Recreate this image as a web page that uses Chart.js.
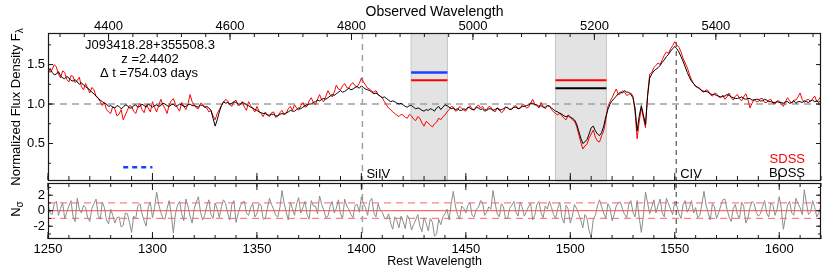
<!DOCTYPE html>
<html><head><meta charset="utf-8">
<script src="https://cdn.jsdelivr.net/npm/chart.js@4/dist/chart.umd.min.js"></script>
<style>html,body{margin:0;padding:0;background:#fff;}canvas{display:block;}</style>
</head><body>
<canvas id="c" width="830" height="278"></canvas>
<script>
// ---------------- data ----------------
const restWave = [
1250,1251,1252,1253,1254,1255,1256,1257,1258,1259,1260,1261,1262,1263,1264,1265,1266,1267,1268,1269,
1270,1271,1272,1273,1274,1275,1276,1277,1278,1279,1280,1281,1282,1283,1284,1285,1286,1287,1288,1289,
1290,1291,1292,1293,1294,1295,1296,1297,1298,1299,1300,1301,1302,1303,1304,1305,1306,1307,1308,1309,
1310,1311,1312,1313,1314,1315,1316,1317,1318,1319,1320,1321,1322,1323,1324,1325,1326,1327,1328,1329,
1330,1331,1332,1333,1334,1335,1336,1337,1338,1339,1340,1341,1342,1343,1344,1345,1346,1347,1348,1349,
1350,1351,1352,1353,1354,1355,1356,1357,1358,1359,1360,1361,1362,1363,1364,1365,1366,1367,1368,1369,
1370,1371,1372,1373,1374,1375,1376,1377,1378,1379,1380,1381,1382,1383,1384,1385,1386,1387,1388,1389,
1390,1391,1392,1393,1394,1395,1396,1397,1398,1399,1400,1401,1402,1403,1404,1405,1406,1407,1408,1409,
1410,1411,1412,1413,1414,1415,1416,1417,1418,1419,1420,1421,1422,1423,1424,1425,1426,1427,1428,1429,
1430,1431,1432,1433,1434,1435,1436,1437,1438,1439,1440,1441,1442,1443,1444,1445,1446,1447,1448,1449,
1450,1451,1452,1453,1454,1455,1456,1457,1458,1459,1460,1461,1462,1463,1464,1465,1466,1467,1468,1469,
1470,1471,1472,1473,1474,1475,1476,1477,1478,1479,1480,1481,1482,1483,1484,1485,1486,1487,1488,1489,
1490,1491,1492,1493,1494,1495,1496,1497,1498,1499,1500,1501,1502,1503,1504,1505,1506,1507,1508,1509,
1510,1511,1512,1513,1514,1515,1516,1517,1518,1519,1520,1521,1522,1523,1524,1525,1526,1527,1528,1529,
1530,1531,1532,1533,1534,1535,1536,1537,1538,1539,1540,1541,1542,1543,1544,1545,1546,1547,1548,1549,
1550,1551,1552,1553,1554,1555,1556,1557,1558,1559,1560,1561,1562,1563,1564,1565,1566,1567,1568,1569,
1570,1571,1572,1573,1574,1575,1576,1577,1578,1579,1580,1581,1582,1583,1584,1585,1586,1587,1588,1589,
1590,1591,1592,1593,1594,1595,1596,1597,1598,1599,1600,1601,1602,1603,1604,1605,1606,1607,1608,1609,
1610,1611,1612,1613,1614,1615,1616,1617,1618,1619,1620];
const sdssFlux = [
1.46,1.40,1.44,1.50,1.47,1.38,1.33,1.42,1.40,1.31, 1.28,1.36,1.35,1.27,1.30,1.34,1.22,1.18,1.26,1.20,
1.14,1.21,1.18,1.10,1.08,1.03,0.98,1.02,0.93,0.90, 0.88,0.97,0.94,0.85,0.87,0.93,0.80,0.86,0.92,0.98,
0.97,0.91,0.88,0.96,1.01,0.93,0.89,0.99,0.95,0.90, 1.03,0.96,0.90,0.98,1.06,0.99,0.94,0.88,0.99,1.04,
1.07,1.00,0.95,0.91,1.02,0.97,0.93,1.00,1.12,1.03, 0.99,0.95,0.94,1.01,1.00,0.96,0.95,0.90,0.92,0.85,
0.80,0.88,0.93,0.98,1.02,1.06,1.04,0.99,0.97,1.03, 1.05,0.98,0.99,1.03,0.96,0.92,1.03,0.98,0.94,0.90,
0.97,0.91,0.88,0.84,0.90,0.86,0.84,0.89,0.90,0.83, 0.85,0.89,0.92,0.87,0.88,0.94,0.97,0.92,0.99,0.95,
0.92,0.98,1.02,0.96,0.97,1.04,1.08,1.02,0.99,1.06, 1.12,1.05,1.03,1.10,1.17,1.12,1.09,1.15,1.24,1.19,
1.18,1.23,1.26,1.21,1.20,1.25,1.27,1.23,1.22,1.26, 1.33,1.28,1.24,1.20,1.19,1.16,1.15,1.17,1.12,1.10,
1.08,1.03,0.99,0.95,0.93,0.90,0.88,0.86,0.84,0.87, 0.86,0.83,0.82,0.87,0.85,0.81,0.79,0.84,0.82,0.76,
0.72,0.78,0.76,0.73,0.71,0.75,0.77,0.82,0.80,0.84, 0.86,0.90,0.93,0.97,0.96,0.91,0.92,0.97,0.95,0.92,
0.91,0.95,0.98,0.94,0.92,0.96,0.99,0.95,0.97,0.93, 0.93,0.97,0.96,0.92,0.90,0.95,0.94,0.89,0.91,0.96,
0.96,0.93,0.93,0.97,0.98,0.94,0.95,0.99,0.99,0.95, 0.96,1.01,1.06,1.00,0.98,0.95,1.02,0.97,0.94,0.98,
0.98,0.93,0.90,0.88,0.86,0.89,0.85,0.82,0.80,0.86, 0.84,0.80,0.78,0.72,0.62,0.52,0.43,0.47,0.49,0.57,
0.62,0.67,0.58,0.53,0.52,0.60,0.66,0.80,0.97,1.03, 1.08,1.14,1.19,1.12,1.13,1.17,1.15,1.11,1.12,1.14,
1.10,0.90,0.56,0.78,0.95,0.82,0.70,1.12,1.38,1.40, 1.46,1.49,1.52,1.50,1.56,1.62,1.66,1.64,1.70,1.74,
1.79,1.75,1.72,1.66,1.58,1.52,1.46,1.38,1.31,1.26, 1.22,1.21,1.20,1.16,1.15,1.18,1.17,1.12,1.10,1.14,
1.13,1.09,1.08,1.11,1.06,1.09,1.14,1.08,1.05,1.10, 1.12,1.07,1.04,1.09,1.13,1.06,0.95,1.01,1.06,1.03,
1.03,1.07,1.07,1.02,1.02,1.05,1.06,1.01,1.00,1.04, 1.04,1.00,0.97,1.03,1.08,1.04,1.01,1.05,1.05,1.09,
1.14,1.06,1.02,1.05,1.06,1.03,1.07,1.10,1.03,1.06, 1.10];
const bossFlux = [
1.42,1.45,1.40,1.37,1.38,1.41,1.36,1.33,1.32,1.35, 1.33,1.30,1.29,1.31,1.28,1.25,1.27,1.24,1.22,1.20,
1.18,1.15,1.13,1.10,1.07,1.05,1.03,1.01,1.00,0.97, 0.98,0.96,0.95,0.98,0.97,0.94,0.96,0.99,0.98,0.95,
0.95,0.98,0.99,0.96,0.97,1.00,0.98,0.96,1.00,0.98, 0.96,0.98,0.99,0.97,0.98,1.01,1.00,0.98,0.97,0.99,
1.00,0.97,0.98,1.00,0.99,0.97,0.97,0.99,1.00,0.98, 0.98,0.97,0.96,0.99,0.98,0.96,0.97,0.95,0.92,0.82,
0.72,0.80,0.90,0.98,1.03,1.01,1.02,1.00,1.01,1.03, 1.02,1.00,1.00,1.02,1.01,0.99,0.98,0.96,0.95,0.93,
0.92,0.90,0.89,0.88,0.88,0.86,0.86,0.87,0.87,0.85, 0.85,0.87,0.88,0.87,0.89,0.90,0.92,0.91,0.91,0.93,
0.95,0.94,0.96,0.98,0.99,1.00,1.00,1.02,1.03,1.05, 1.04,1.06,1.07,1.06,1.08,1.10,1.12,1.11,1.13,1.15,
1.17,1.15,1.16,1.18,1.20,1.18,1.19,1.21,1.22,1.20, 1.23,1.21,1.19,1.18,1.17,1.15,1.13,1.14,1.12,1.10,
1.08,1.09,1.07,1.05,1.03,1.04,1.03,1.01,1.00,1.01, 0.99,0.97,0.96,0.98,0.98,0.96,0.94,0.95,0.94,0.92,
0.91,0.93,0.92,0.94,0.93,0.91,0.95,0.97,0.93,0.96, 0.99,0.98,0.96,0.94,0.95,0.93,0.94,0.92,0.92,0.94,
0.93,0.96,0.95,0.93,0.93,0.96,0.95,0.93,0.94,0.91, 0.92,0.94,0.94,0.92,0.93,0.95,0.92,0.93,0.94,0.96,
0.95,0.93,0.94,0.96,0.96,0.94,0.95,0.97,0.97,0.98, 0.99,1.01,1.01,0.99,0.99,0.97,0.98,0.96,0.96,0.98,
0.97,0.95,0.93,0.91,0.90,0.88,0.87,0.85,0.84,0.85, 0.83,0.82,0.80,0.75,0.66,0.57,0.50,0.52,0.55,0.62,
0.70,0.72,0.66,0.62,0.60,0.64,0.72,0.84,0.93,1.00, 1.04,1.07,1.10,1.13,1.15,1.14,1.17,1.15,1.15,1.12,
1.08,0.95,0.66,0.85,0.98,0.86,0.74,1.10,1.33,1.38, 1.42,1.44,1.46,1.49,1.53,1.56,1.60,1.63,1.67,1.70,
1.73,1.70,1.66,1.60,1.54,1.47,1.40,1.34,1.29,1.26, 1.23,1.21,1.19,1.17,1.16,1.16,1.15,1.13,1.12,1.12,
1.11,1.10,1.09,1.10,1.10,1.12,1.11,1.09,1.08,1.07, 1.07,1.08,1.09,1.07,1.06,1.07,1.07,1.05,1.05,1.06,
1.06,1.04,1.04,1.06,1.05,1.03,1.03,1.02,1.02,1.03, 1.02,1.02,1.01,1.03,1.03,1.01,1.02,1.04,1.01,1.03,
1.03,1.02,1.04,1.03,1.02,1.04,1.05,1.03,1.04,1.02, 1.05];
const residual = [
0.8,-0.3,-0.5,0.9,1.2,-0.6,0.3,1.0,-1.0,-0.2, 0.6,1.3,-0.8,-1.4,1.6,0.2,-0.3,0.7,0.4,-0.9,
-1.4,0.3,0.9,1.5,-0.6,-1.1,1.1,0.4,-1.2,-1.7, 0.2,-0.6,-1.6,-0.9,-0.8,-2.1,-1.9,-0.3,-0.4,-1.5,
-2.8,-0.7,-1.0,0.6,0.9,-0.4,-1.3,-2.0,0.5,1.1, -0.9,0.4,2.4,0.8,-0.2,-1.0,-1.1,0.3,1.3,-0.5,
-2.9,-0.4,0.7,1.2,-0.4,-1.3,1.5,0.6,-0.7,-1.6, 0.3,1.1,1.8,-0.2,-1.2,-0.6,0.6,1.4,-0.5,-1.0,
1.0,0.2,-0.9,0.5,1.4,0.9,-0.3,-1.2,0.8,1.3, -1.5,-0.4,0.5,1.1,1.2,-0.3,-0.6,0.4,0.9,-0.8,
-0.4,0.9,0.7,-1.1,-1.0,0.3,1.6,0.8,0.2,-0.6, -0.8,0.4,2.6,1.0,-0.2,-1.2,1.1,0.3,-0.6,0.9,
1.7,-0.3,0.4,1.2,-0.5,-1.1,1.3,0.6,0.6,-0.4, 1.9,0.8,0.1,-0.9,-0.7,0.5,1.2,-0.3,0.3,1.4,
-0.4,-1.0,1.5,0.6,0.2,-0.5,-0.9,0.7,0.8,-0.2, 1.8,0.9,0.4,-0.6,1.2,1.6,-0.3,-0.8,0.9,0.1,
-0.2,-0.9,-1.1,-0.4,-1.6,-2.4,-0.8,-1.3,-2.2,-0.7, -1.4,-2.3,-0.6,-1.1,-2.5,-1.8,-1.2,-0.5,-2.0,-2.7,
-0.9,-1.6,-2.6,-1.0,-1.5,-3.3,-3.0,-1.1,-1.8,-0.8, -0.4,0.2,-1.2,0.9,2.5,0.6,-0.5,-1.1,0.6,0.3,
-0.3,0.7,1.0,-0.6,-0.8,0.2,0.4,1.3,1.1,-0.6, -0.2,0.5,0.2,2.6,1.0,-0.4,-0.8,0.9,0.5,-1.0,
-1.0,0.3,0.7,1.2,-0.2,-0.7,1.1,0.4,-0.7,-0.1, 0.5,1.0,-1.2,-0.6,0.8,1.2,-0.3,-0.9,0.6,0.2,
1.2,0.4,-0.5,-1.0,0.3,1.1,-0.9,-1.6,0.7,0.2, -1.6,-0.7,0.8,0.3,-0.4,-1.2,-2.2,-0.5,-1.0,-2.6,
-3.4,-1.1,-0.6,0.6,1.4,0.5,-0.3,-1.0,0.9,0.4, -1.3,-0.5,0.6,1.0,1.1,0.2,-0.5,-0.9,0.8,1.3,
-0.2,-0.8,1.3,-0.9,-2.8,-0.6,2.4,1.0,-0.4,0.5, 1.4,-0.3,0.7,1.5,-0.3,-0.8,1.6,0.9,0.2,-0.5,
1.2,0.6,-0.4,-1.0,0.8,1.3,-0.2,0.4,1.3,-0.3, 0.4,-0.9,-0.6,0.9,2.5,0.7,-0.3,-1.2,0.9,0.5,
-1.0,-0.3,0.6,1.4,1.5,0.2,-0.8,-1.4,0.3,0.8, -0.5,-1.0,1.1,0.6,-1.6,-1.0,0.4,1.2,0.9,-0.2,
-0.7,-0.4,0.5,1.3,-0.3,-0.8,1.0,0.7,-0.6,0.2, 1.8,0.3,-2.4,-0.8,0.7,1.2,-0.3,-0.6,1.6,0.9,
0.4,-0.5,2.7,1.0,-0.5,-0.2,1.3,0.4,-0.8,-0.3, 0.6];

const restTicks = [1250,1300,1350,1400,1450,1500,1550,1600];
const obsTicks = [4400,4600,4800,5000,5200,5400];
const fluxTicks = [0.5,1.0,1.5];
const residTicks = [-2,0,2];
const redshift = 2.4402;
const lineNames = ['SiIV','CIV'];
const lineWaves = [1400.5,1550.7];
const troughStart = [1423.8,1492.9];
const troughEnd = [1441.2,1517.3];
const bar1Wave = [1423.8,1441.2];
const bar1Blue = 1.40;
const bar1Red = 1.30;
const bar2Wave = [1492.9,1517.3];
const bar2Red = 1.30;
const bar2Black = 1.20;
const blueDashWave = [1286,1300];
const blueDashLevel = 0.20;
const objName = 'J093418.28+355508.3';
const zText = 'z =2.4402';
const dtText = '\u0394 t =754.03 days';

// ---------------- chart ----------------
const FONT = "'Liberation Sans', Arial, Helvetica, sans-serif";
Chart.defaults.font.family = FONT;
Chart.defaults.font.size = 13;
Chart.defaults.color = '#000';

const pts = (xs, ys) => xs.map((x, i) => ({x: x, y: ys[i]}));
const lvl = (xs, v) => xs.map(x => ({x: x, y: v}));

function seg(ctx, x1, y1, x2, y2, color, width, dash) {
  ctx.save();
  ctx.beginPath();
  ctx.setLineDash(dash || []);
  ctx.strokeStyle = color;
  ctx.lineWidth = width;
  ctx.moveTo(x1, y1); ctx.lineTo(x2, y2);
  ctx.stroke();
  ctx.restore();
}
function rotText(ctx, parts, cx, cy) {
  ctx.save();
  ctx.translate(cx, cy);
  ctx.rotate(-Math.PI / 2);
  let total = 0;
  parts.forEach(p => { ctx.font = p.size + 'px ' + FONT; p.w = ctx.measureText(p.t).width; total += p.w; });
  let x = -total / 2;
  ctx.textBaseline = 'alphabetic';
  ctx.textAlign = 'left';
  parts.forEach(p => { ctx.font = p.size + 'px ' + FONT; ctx.fillText(p.t, x, p.dy); x += p.w; });
  ctx.restore();
}

const decor = {
  id: 'decor',
  beforeDatasetsDraw(chart) {
    const ctx = chart.ctx;
    const X = chart.scales.x, F = chart.scales.flux, R = chart.scales.resid;
    const L = chart.chartArea.left, Rt = chart.chartArea.right;
    const fT = F.top, fB = F.bottom - 1, rT = R.top + 2, rB = R.bottom;
    ctx.save();
    for (let i = 0; i < troughStart.length; i++) {
      const a = X.getPixelForValue(troughStart[i]), b = X.getPixelForValue(troughEnd[i]);
      ctx.fillStyle = '#e3e3e3';
      ctx.fillRect(a, fT, b - a, fB - fT + 2);
      seg(ctx, a, fT, a, fB, '#c6c6c6', 1);
      seg(ctx, b, fT, b, fB, '#c6c6c6', 1);
    }
    const y1 = F.getPixelForValue(1.0);
    seg(ctx, L, y1, Rt, y1, '#a0a0a0', 1.4, [7, 5]);
    const r0 = R.getPixelForValue(0), rp = R.getPixelForValue(1), rm = R.getPixelForValue(-1);
    seg(ctx, L, r0, Rt, r0, '#ff6a6a', 1.2);
    seg(ctx, L, rp, Rt, rp, '#ff8080', 1.2, [7, 5]);
    seg(ctx, L, rm, Rt, rm, '#ff8080', 1.2, [7, 5]);
    const colors = ['#a0a0a0', '#444444'];
    const dashes = [[6, 5], [5, 4]];
    const widths = [1.5, 1.1];
    lineWaves.forEach((w, i) => {
      const px = X.getPixelForValue(w);
      seg(ctx, px, fT, px, fB, colors[i], widths[i], dashes[i]);
      seg(ctx, px, rT, px, rB, colors[i], widths[i], dashes[i]);
    });
    ctx.restore();
  },
  afterDatasetsDraw(chart) {
    const ctx = chart.ctx;
    const X = chart.scales.x, O = chart.scales.obs, F = chart.scales.flux, R = chart.scales.resid;
    const L = chart.chartArea.left, Rt = chart.chartArea.right;
    const fT = F.top, fB = F.bottom - 1, rT = R.top + 2, rB = R.bottom;
    ctx.save();
    const fc = '#1a1a1a';
    ctx.strokeStyle = fc; ctx.lineWidth = 1.2; ctx.setLineDash([]);
    ctx.strokeRect(L + 0.5, fT + 0.5, Rt - L - 1, fB - fT);
    ctx.strokeRect(L + 0.5, rT + 0.5, Rt - L - 1, rB - rT - 1);
    const restMinor = [], obsMinor = [], fluxMinor = [], residMinor = [];
    for (let w = 1250; w <= 1620; w += 10) restMinor.push(w);
    for (let o = 4320; o <= 5560; o += 40) obsMinor.push(o);
    for (let f = 0.25; f < 1.9; f += 0.25) fluxMinor.push(f);
    for (let r = -3; r <= 3; r += 1) residMinor.push(r);
    const hT = (scale, vals, y, len) => vals.forEach(v => { const p = scale.getPixelForValue(v); seg(ctx, p, y, p, y + len, fc, 1); });
    const vT = (scale, vals, len) => vals.forEach(v => { const p = scale.getPixelForValue(v); seg(ctx, L, p, L + len, p, fc, 1); seg(ctx, Rt, p, Rt - len, p, fc, 1); });
    hT(O, obsMinor, fT, 4); hT(O, obsTicks, fT, 7);
    hT(X, restMinor, fB, -4); hT(X, restTicks, fB, -7);
    hT(X, restMinor, rT, 4); hT(X, restTicks, rT, 7);
    hT(X, restMinor, rB, -4); hT(X, restTicks, rB, -7);
    vT(F, fluxMinor, 3); vT(F, fluxTicks, 5);
    vT(R, residMinor, 3); vT(R, residTicks, 5);
    ctx.restore();
  },
  afterDraw(chart) {
    const ctx = chart.ctx;
    const X = chart.scales.x;
    ctx.save();
    ctx.fillStyle = '#000';
    ctx.font = '13px ' + FONT;
    ctx.textAlign = 'center';
    ctx.textBaseline = 'alphabetic';
    ctx.fillText(objName, 150, 49);
    ctx.fillText(zText, 150, 63);
    ctx.fillText(dtText, 149, 77);
    ctx.textAlign = 'left';
    lineNames.forEach((n, i) => { ctx.fillText(n, X.getPixelForValue(lineWaves[i]) + 4, 178); });
    ctx.textAlign = 'right';
    ctx.fillStyle = '#ff0000';
    ctx.fillText('SDSS', 805, 163);
    ctx.fillStyle = '#000';
    ctx.fillText('BOSS', 805, 177);
    rotText(ctx, [{t: 'Normalized Flux Density F', size: 13, dy: 0}, {t: '\u03bb', size: 10, dy: 3}], 20, 107);
    rotText(ctx, [{t: 'N', size: 13, dy: 0}, {t: '\u03c3', size: 10, dy: 3}], 20, 209);
    ctx.restore();
  }
};

const lineDs = (label, data, color, width, yAxis, dash) => ({
  label: label, data: data, borderColor: color, borderWidth: width, yAxisID: yAxis, xAxisID: 'x',
  pointRadius: 0, tension: 0, fill: false, borderDash: dash || [], borderCapStyle: 'butt'
});

new Chart(document.getElementById('c'), {
  type: 'line',
  data: {
    datasets: [
      lineDs('bar1 blue', lvl(bar1Wave, bar1Blue), '#1f3fff', 2.6, 'flux'),
      lineDs('bar1 red', lvl(bar1Wave, bar1Red), '#ff0000', 2, 'flux'),
      lineDs('bar2 red', lvl(bar2Wave, bar2Red), '#ff0000', 2, 'flux'),
      lineDs('bar2 black', lvl(bar2Wave, bar2Black), '#000000', 2, 'flux'),
      lineDs('blue dash', lvl(blueDashWave, blueDashLevel), '#1f3fff', 2.4, 'flux', [5, 4]),
      lineDs('BOSS', pts(restWave, bossFlux), '#000000', 1, 'flux'),
      lineDs('SDSS', pts(restWave, sdssFlux), '#ff0000', 1, 'flux'),
      lineDs('Residual', pts(restWave, residual), '#8c8c8c', 1, 'resid')
    ]
  },
  options: {
    responsive: false,
    animation: false,
    devicePixelRatio: 1,
    layout: {padding: {left: 0, right: 9, top: 0, bottom: 0}},
    plugins: {legend: {display: false}, tooltip: {enabled: false}},
    scales: {
      x: {
        type: 'linear', position: 'bottom', min: 1250, max: 1620,
        grid: {display: false, drawTicks: false}, border: {display: false},
        afterBuildTicks: s => { s.ticks = restTicks.map(v => ({value: v})); },
        afterFit: s => { s.height = 39; },
        ticks: {padding: 4, maxRotation: 0, autoSkip: false, font: {size: 13, lineHeight: 1}, callback: v => String(v)},
        title: {display: true, text: 'Rest Wavelength', font: {size: 12.5}, padding: {top: 0, bottom: 9}}
      },
      obs: {
        type: 'linear', position: 'top', min: 1250 * (1 + redshift), max: 1620 * (1 + redshift),
        grid: {display: false, drawTicks: false}, border: {display: false},
        afterBuildTicks: s => { s.ticks = obsTicks.map(v => ({value: v})); },
        afterFit: s => { s.height = 33; },
        ticks: {padding: 0, maxRotation: 0, autoSkip: false, font: {size: 13, lineHeight: 1}, callback: v => String(v)},
        title: {display: true, text: 'Observed Wavelength', font: {size: 14}, padding: {top: 4, bottom: 0}}
      },
      resid: {
        type: 'linear', position: 'left', stack: 'panels', stackWeight: 58, min: -3.65, max: 3.83,
        grid: {display: false, drawTicks: false}, border: {display: false},
        afterBuildTicks: s => { s.ticks = residTicks.map(v => ({value: v})); },
        afterFit: s => { s.width = 48; },
        ticks: {padding: 3, font: {size: 13}, callback: v => String(v)}
      },
      flux: {
        type: 'linear', position: 'left', stack: 'panels', stackWeight: 148, min: 0.025, max: 1.9,
        grid: {display: false, drawTicks: false}, border: {display: false},
        afterBuildTicks: s => { s.ticks = fluxTicks.map(v => ({value: v})); },
        afterFit: s => { s.width = 48; },
        ticks: {padding: 3, font: {size: 13}, callback: v => Number(v).toFixed(1)}
      }
    }
  },
  plugins: [decor]
});
</script>
</body></html>
